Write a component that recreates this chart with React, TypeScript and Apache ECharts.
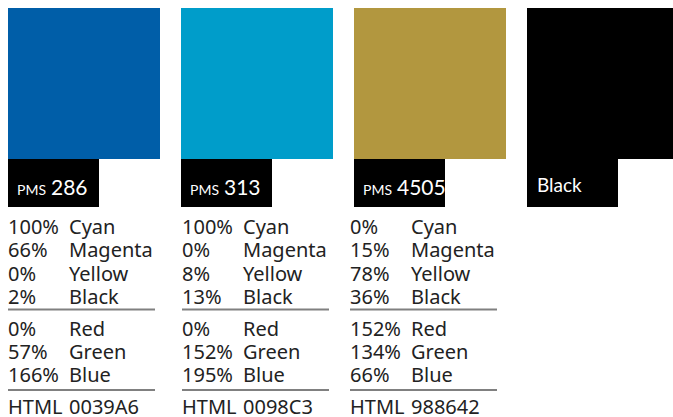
import React, { useEffect, useRef } from "react";
import * as echarts from "echarts";

// ---- data ----
const swatchColors = ["#005EA8", "#009DCA", "#B2973F", "#000000"];
const pmsCodes = ["286", "313", "4505", ""];
const specialLabel = ["", "", "", "Black"];
const cmykNames = ["Cyan", "Magenta", "Yellow", "Black"];
const cyan = [100, 100, 0];
const magenta = [66, 0, 15];
const yellow = [0, 8, 78];
const blackInk = [2, 13, 36];
const rgbNames = ["Red", "Green", "Blue"];
const red = [0, 0, 152];
const green = [57, 152, 134];
const blue = [166, 195, 66];
const htmlCodes = ["0039A6", "0098C3", "988642"];

// ---- layout ----
const PITCH = 173;
const GRID_LEFT = 8;
const GRID_W = 673 - GRID_LEFT;
const TEXT_NUDGE = [0, 1, -4, 0];
const BODY_FONT = '"Noto Sans", sans-serif';
const LABEL_FONT = 'Lato, "Noto Sans", sans-serif';

export default function App() {
  const ref = useRef<HTMLDivElement>(null);
  useEffect(() => {
    if (!ref.current) return;
    const chart = echarts.init(ref.current, undefined, { renderer: "svg" });
    const data = swatchColors.map((_, i) => [i]);
    const renderItem = (params: any, api: any) => {
      const i = api.value(0);
      const [x0, yTop] = api.coord([i, 1]);
      const [, yBot] = api.coord([i, 0]);
      const band = api.size([1, 0])[0];
      const w = band - 21;
      const children: any[] = [];
      children.push({
        type: "rect",
        shape: { x: x0, y: yTop, width: w, height: yBot - yTop },
        style: { fill: swatchColors[i] },
      });
      children.push({
        type: "rect",
        shape: { x: x0, y: yBot, width: 91, height: 48 },
        style: { fill: "#000" },
      });
      if (pmsCodes[i]) {
        children.push({
          type: "text",
          x: x0 + 9,
          y: yBot + 27,
          style: {
            text: "{a|PMS}{b|" + pmsCodes[i] + "}",
            fill: "#fff",
            fontFamily: LABEL_FONT,
            fontSize: 20,
            align: "left",
            verticalAlign: "middle",
            rich: {
              a: { fontSize: 14, lineHeight: 14, fontFamily: LABEL_FONT, fill: "#fff", verticalAlign: "bottom", padding: [0, 5, 0, 0] },
              b: { fontSize: 21, lineHeight: 21, fontFamily: LABEL_FONT, fill: "#fff", verticalAlign: "bottom" },
            },
          },
        });
      }
      if (specialLabel[i]) {
        children.push({
          type: "text",
          x: x0 + 10,
          y: yBot + 25,
          style: {
            text: specialLabel[i],
            fill: "#fff",
            fontFamily: LABEL_FONT,
            fontSize: 19,
            align: "left",
            verticalAlign: "middle",
          },
        });
      }
      if (i < htmlCodes.length) {
        const tx = x0 + TEXT_NUDGE[i];
        const tx2 = tx + 61;
        const txt = (x: number, y: number, s: string) => ({
          type: "text",
          x,
          y,
          style: {
            text: s,
            fill: "#222",
            fontFamily: BODY_FONT,
            fontSize: 20,
            align: "left",
            verticalAlign: "middle",
          },
        });
        const cmyk = [cyan[i], magenta[i], yellow[i], blackInk[i]];
        const cmykY = [226, 249.5, 273, 296];
        cmyk.forEach((v, k) => {
          children.push(txt(tx, cmykY[k], v + "%"));
          children.push(txt(tx2, cmykY[k], cmykNames[k]));
        });
        children.push({
          type: "line",
          shape: { x1: tx, y1: 309.5, x2: tx + 147, y2: 309.5 },
          style: { stroke: "#808080", lineWidth: 2 },
        });
        const rgb = [red[i], green[i], blue[i]];
        const rgbY = [328, 351, 374.5];
        rgb.forEach((v, k) => {
          children.push(txt(tx, rgbY[k], v + "%"));
          children.push(txt(tx2, rgbY[k], rgbNames[k]));
        });
        children.push({
          type: "line",
          shape: { x1: tx, y1: 390, x2: tx + 147, y2: 390 },
          style: { stroke: "#808080", lineWidth: 2 },
        });
        children.push(txt(tx, 406.5, "HTML"));
        children.push(txt(tx2, 406.5, htmlCodes[i]));
      }
      return { type: "group", children };
    };
    chart.setOption({
      animation: false,
      backgroundColor: "#fff",
      grid: { left: GRID_LEFT, top: 8, width: GRID_W, height: 151 },
      xAxis: { type: "value", min: 0, max: GRID_W / PITCH, show: false },
      yAxis: { type: "value", min: 0, max: 1, show: false },
      series: [
        {
          type: "custom",
          renderItem,
          data,
          encode: { x: 0 },
          clip: false,
          silent: true,
        },
      ],
    });
    return () => chart.dispose();
  }, []);
  return (
    <div
      ref={ref}
      style={{ position: "absolute", left: 0, top: 0, width: 673, height: 417 }}
    />
  );
}
